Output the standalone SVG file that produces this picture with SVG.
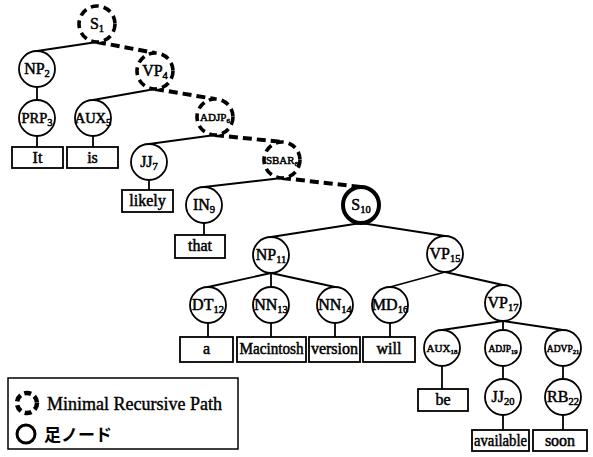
<svg xmlns="http://www.w3.org/2000/svg" width="593" height="457" viewBox="0 0 593 457">
<style>
.n{fill:#fff;stroke:#000;stroke-width:1.8}
.mrp{fill:#fff;stroke:#000;stroke-width:3.6;stroke-dasharray:8 5}
.foot{fill:#fff;stroke:#000;stroke-width:4}
.e{stroke:#000;stroke-width:1.8;fill:none}
.d{stroke:#000;stroke-width:4;fill:none;stroke-dasharray:9 5}
.b{fill:#fff;stroke:#000;stroke-width:1.8}
.t{font-family:"Liberation Serif","Times New Roman",serif;font-size:16px;text-anchor:middle;fill:#000;stroke:#000;stroke-width:0.5}
.s{font-size:10.5px}
.sm{font-size:11px}
.w{font-family:"Liberation Serif","Times New Roman",serif;font-size:16px;text-anchor:middle;fill:#000;stroke:#000;stroke-width:0.5}
.lg{font-family:"Liberation Serif","Times New Roman",serif;font-size:18px;fill:#000;stroke:#000;stroke-width:0.4}
.lj{font-family:"Noto Sans CJK JP","Noto Sans CJK SC",sans-serif;font-size:17px;font-weight:bold;fill:#000}
</style>
<rect width="593" height="457" fill="#fff"/>
<g id="connectors">
<line class="e" x1="97" y1="42" x2="37" y2="51"/>
<line class="d" x1="97" y1="42" x2="155" y2="53"/>
<line class="e" x1="37" y1="87" x2="37" y2="100"/>
<line class="e" x1="37" y1="136" x2="37" y2="147"/>
<line class="e" x1="155" y1="89" x2="93" y2="100"/>
<line class="d" x1="155" y1="89" x2="215" y2="99"/>
<line class="e" x1="93" y1="136" x2="93" y2="147"/>
<line class="e" x1="215" y1="135" x2="149" y2="144"/>
<line class="d" x1="215" y1="135" x2="282" y2="142"/>
<line class="e" x1="149" y1="180" x2="149" y2="190"/>
<line class="e" x1="282" y1="178" x2="204" y2="187"/>
<line class="d" x1="282" y1="178" x2="361" y2="187"/>
<line class="e" x1="204" y1="223" x2="204" y2="235"/>
<line class="e" x1="361" y1="223" x2="271" y2="237"/>
<line class="e" x1="361" y1="223" x2="445" y2="236"/>
<line class="e" x1="271" y1="273" x2="208" y2="287"/>
<line class="e" x1="271" y1="273" x2="271" y2="287"/>
<line class="e" x1="271" y1="273" x2="335" y2="287"/>
<line class="e" x1="445" y1="272" x2="390" y2="287"/>
<line class="e" x1="445" y1="272" x2="503" y2="285"/>
<line class="e" x1="208" y1="323" x2="208" y2="337"/>
<line class="e" x1="271" y1="323" x2="271" y2="337"/>
<line class="e" x1="335" y1="323" x2="335" y2="337"/>
<line class="e" x1="390" y1="323" x2="390" y2="337"/>
<line class="e" x1="503" y1="321" x2="442" y2="330"/>
<line class="e" x1="503" y1="321" x2="503" y2="330"/>
<line class="e" x1="503" y1="321" x2="563" y2="330"/>
<line class="e" x1="442" y1="366" x2="442" y2="389"/>
<line class="e" x1="503" y1="366" x2="503" y2="379"/>
<line class="e" x1="563" y1="366" x2="563" y2="379"/>
<line class="e" x1="503" y1="415" x2="503" y2="430"/>
<line class="e" x1="563" y1="415" x2="563" y2="430"/>
</g>
<g id="S1"><circle class="mrp" cx="97" cy="24" r="18"/><text class="t" x="97" y="29">S<tspan class="s" dy="3">1</tspan></text></g>
<g id="NP2"><circle class="n" cx="37" cy="69" r="18"/><text class="t" x="37" y="74">NP<tspan class="s" dy="3">2</tspan></text></g>
<g id="VP4"><circle class="mrp" cx="155" cy="71" r="18"/><text class="t" x="155" y="76">VP<tspan class="s" dy="3">4</tspan></text></g>
<g id="PRP3"><circle class="n" cx="37" cy="118" r="18"/><text class="t" x="37" y="123" style="font-size:14.5px">PRP<tspan class="s" dy="3">3</tspan></text></g>
<g id="AUX5"><circle class="n" cx="93" cy="118" r="18"/><text class="t" x="93" y="123" style="font-size:14.5px">AUX<tspan class="s" dy="3">5</tspan></text></g>
<g id="ADJP6"><circle class="mrp" cx="215" cy="117" r="18"/><text class="t sm" x="215" y="121">ADJP<tspan style="font-size:7px" dy="2">6</tspan></text></g>
<g id="JJ7"><circle class="n" cx="149" cy="162" r="18"/><text class="t" x="149" y="167">JJ<tspan class="s" dy="3">7</tspan></text></g>
<g id="SBAR8"><circle class="mrp" cx="282" cy="160" r="18"/><text class="t sm" x="282" y="164">SBAR<tspan style="font-size:7px" dy="2">8</tspan></text></g>
<g id="IN9"><circle class="n" cx="204" cy="205" r="18"/><text class="t" x="204" y="210">IN<tspan class="s" dy="3">9</tspan></text></g>
<g id="S10"><circle class="foot" cx="361" cy="205" r="18"/><text class="t" x="361" y="210">S<tspan class="s" dy="3">10</tspan></text></g>
<g id="NP11"><circle class="n" cx="271" cy="255" r="18"/><text class="t" x="271" y="260">NP<tspan class="s" dy="3">11</tspan></text></g>
<g id="VP15"><circle class="n" cx="445" cy="254" r="18"/><text class="t" x="445" y="259">VP<tspan class="s" dy="3">15</tspan></text></g>
<g id="DT12"><circle class="n" cx="208" cy="305" r="18"/><text class="t" x="208" y="310">DT<tspan class="s" dy="3">12</tspan></text></g>
<g id="NN13"><circle class="n" cx="271" cy="305" r="18"/><text class="t" x="271" y="310">NN<tspan class="s" dy="3">13</tspan></text></g>
<g id="NN14"><circle class="n" cx="335" cy="305" r="18"/><text class="t" x="335" y="310">NN<tspan class="s" dy="3">14</tspan></text></g>
<g id="MD16"><circle class="n" cx="390" cy="305" r="18"/><text class="t" x="390" y="310">MD<tspan class="s" dy="3">16</tspan></text></g>
<g id="VP17"><circle class="n" cx="503" cy="303" r="18"/><text class="t" x="503" y="308">VP<tspan class="s" dy="3">17</tspan></text></g>
<g id="AUX18"><circle class="n" cx="442" cy="348" r="18"/><text class="t sm" x="442" y="352">AUX<tspan style="font-size:7px" dy="2">18</tspan></text></g>
<g id="ADJP19"><circle class="n" cx="503" cy="348" r="18"/><text class="t" x="503" y="352" style="font-size:9.5px">ADJP<tspan style="font-size:6.5px" dy="2">19</tspan></text></g>
<g id="ADVP21"><circle class="n" cx="563" cy="348" r="18"/><text class="t" x="563" y="352" style="font-size:9.5px">ADVP<tspan style="font-size:6.5px" dy="2">21</tspan></text></g>
<g id="JJ20"><circle class="n" cx="503" cy="397" r="18"/><text class="t" x="503" y="402">JJ<tspan class="s" dy="3">20</tspan></text></g>
<g id="RB22"><circle class="n" cx="563" cy="397" r="18"/><text class="t" x="563" y="402">RB<tspan class="s" dy="3">22</tspan></text></g>
<g id="w_It"><rect class="b" x="12" y="147" width="51" height="21"/><text class="w" x="37.5" y="163">It</text></g>
<g id="w_is"><rect class="b" x="67" y="147" width="51" height="21"/><text class="w" x="92.5" y="163">is</text></g>
<g id="w_likely"><rect class="b" x="122" y="190" width="51" height="22"/><text class="w" x="147.5" y="206">likely</text></g>
<g id="w_that"><rect class="b" x="175" y="235" width="50" height="23"/><text class="w" x="200" y="251">that</text></g>
<g id="w_a"><rect class="b" x="180" y="337" width="53" height="25"/><text class="w" x="206.5" y="354">a</text></g>
<g id="w_Macintosh"><rect class="b" x="237" y="337" width="69" height="25"/><text class="w" x="271.5" y="354" textLength="64" lengthAdjust="spacingAndGlyphs">Macintosh</text></g>
<g id="w_version"><rect class="b" x="309" y="337" width="51" height="25"/><text class="w" x="334.5" y="354">version</text></g>
<g id="w_will"><rect class="b" x="363" y="337" width="52" height="25"/><text class="w" x="389" y="354">will</text></g>
<g id="w_be"><rect class="b" x="418" y="389" width="50" height="22"/><text class="w" x="443" y="405">be</text></g>
<g id="w_available"><rect class="b" x="472" y="430" width="57" height="21"/><text class="w" x="500.5" y="446" textLength="53" lengthAdjust="spacingAndGlyphs">available</text></g>
<g id="w_soon"><rect class="b" x="533" y="430" width="54" height="21"/><text class="w" x="560" y="446">soon</text></g>
<g id="legend">
<rect x="8" y="378" width="230" height="71" fill="#fff" stroke="#000" stroke-width="1.5"/>
<circle cx="27" cy="403" r="10" fill="none" stroke="#000" stroke-width="4.5" stroke-dasharray="7 4"/>
<text class="lg" x="47" y="410">Minimal Recursive Path</text>
<circle cx="26" cy="434" r="9" fill="none" stroke="#000" stroke-width="3"/>
<text class="lj" x="44" y="441">足ノード</text>
</g>
</svg>
